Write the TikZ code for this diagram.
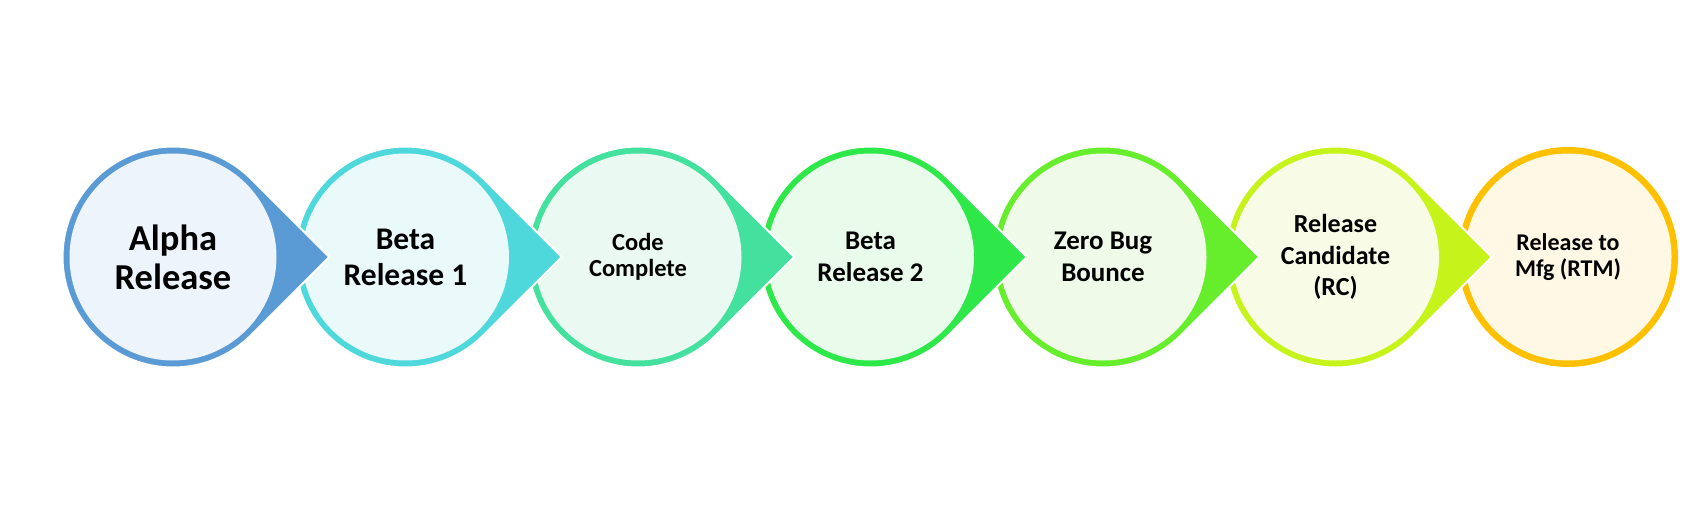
\documentclass[tikz,border=0pt]{standalone}
\usepackage{fontspec}
\setmainfont{Carlito}
\usetikzlibrary{calc}
\definecolor{rA}{HTML}{5B9BD5}\definecolor{fA}{HTML}{EEF4FB}
\definecolor{rB}{HTML}{4ED8DB}\definecolor{fB}{HTML}{EAF9FA}
\definecolor{rC}{HTML}{44E09E}\definecolor{fC}{HTML}{EAFAF2}
\definecolor{rD}{HTML}{2EE84A}\definecolor{fD}{HTML}{E9FBEB}
\definecolor{rE}{HTML}{66EE2C}\definecolor{fE}{HTML}{EFFBE8}
\definecolor{rF}{HTML}{C6F31A}\definecolor{fF}{HTML}{F8FCE6}
\definecolor{rG}{HTML}{FFC000}\definecolor{fG}{HTML}{FFF8E5}
\tikzset{
  stepdisc/.style={circle, inner sep=0pt, minimum size=207pt, align=center, text=black},
  teardrop/.style={draw=white, line width=2pt},
}
\newcommand{\mytear}[2]{%
  \fill[teardrop, fill=#2] ($(#1)+(45:110.5)$) arc[start angle=45, end angle=315, radius=110.5] -- ($(#1)+(156.3,0)$) -- cycle;}
\begin{document}
\begin{tikzpicture}[x=1pt, y=1pt]
\useasboundingbox (0,0) rectangle (1693,515);
\coordinate (pA) at (173,258);
\coordinate (pB) at (405.5,258);
\coordinate (pC) at (638,258);
\coordinate (pD) at (870.5,258);
\coordinate (pE) at (1103,258);
\coordinate (pF) at (1335.5,258);
\coordinate (pG) at (1568,258);
% RTM (no arrow)
\fill[rG] (pG) circle[radius=110];
\node[stepdisc, fill=fG, font=\fontsize{24}{26.7}\selectfont\bfseries] (nG) at (pG) {Release to\\Mfg (RTM)};
% RC
\mytear{pF}{rF}
\node[stepdisc, fill=fF, font=\fontsize{26}{31.7}\selectfont\bfseries] (nF) at (pF) {Release\\Candidate\\(RC)};
% Zero Bug
\mytear{pE}{rE}
\node[stepdisc, fill=fE, font=\fontsize{27}{32}\selectfont\bfseries] (nE) at (pE) {Zero Bug\\Bounce};
% Beta 2
\mytear{pD}{rD}
\node[stepdisc, fill=fD, font=\fontsize{27}{32}\selectfont\bfseries] (nD) at (pD) {Beta\\Release 2};
% Code Complete
\mytear{pC}{rC}
\node[stepdisc, fill=fC, font=\fontsize{24.5}{26.5}\selectfont\bfseries] (nC) at (pC) {Code\\Complete};
% Beta 1
\mytear{pB}{rB}
\node[stepdisc, fill=fB, font=\fontsize{31.5}{36}\selectfont\bfseries] (nB) at (pB) {Beta\\Release 1};
% Alpha
\mytear{pA}{rA}
\node[stepdisc, fill=fA, font=\fontsize{36.5}{39}\selectfont\bfseries] (nA) at (pA) {Alpha\\Release};
\end{tikzpicture}
\end{document}
